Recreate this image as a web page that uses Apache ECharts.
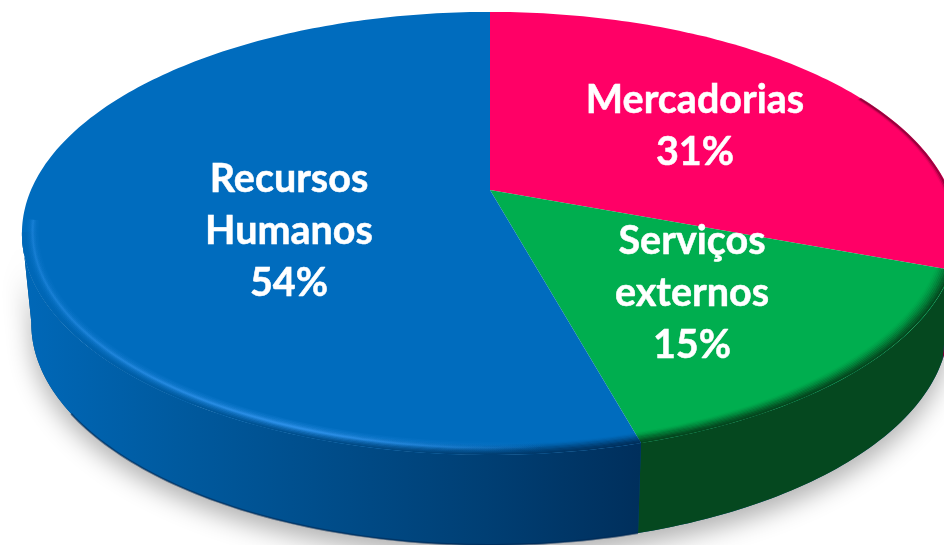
<!DOCTYPE html>
<html>
<head>
<meta charset="utf-8">
<style>
  html, body { margin: 0; padding: 0; background: #fff; }
  #chart { width: 944px; height: 545px; }
</style>
<script src="https://cdn.jsdelivr.net/npm/echarts@6/dist/echarts.min.js"></script>
</head>
<body>
<div id="chart"></div>
<script>
// clockwise from 12 o'clock
var categories = ['Mercadorias', 'Serviços\nexternos', 'Recursos\nHumanos'];
var shares = [30.7, 15.0, 54.3];
var faceColors = ['#ff0066', '#00ae4f', '#006cbe'];
var labelCenters = [[695, 126], [692, 293], [289, 231]];

// projected disc: a circle seen in perspective, apex off the ellipse centre
var APEX_X = 490, APEX_Y = 190;
var RX = 459, RY = 213, PERSP = -0.196;
var WALL_H = 90, WALL_SHRINK = 0.98;
// angles where the disc outline is widest, the wall is only visible between them
var WALL_FROM = 101, WALL_TO = 259;

function project(deg, r) {
  var t = deg * Math.PI / 180;
  var u = Math.sin(t) * r, v = -Math.cos(t) * r;
  var d = 1 + PERSP * v;
  return [APEX_X + RX * u / d, APEX_Y + RY * v / d];
}

function lower(p) {
  return [APEX_X + (p[0] - APEX_X) * WALL_SHRINK, p[1] + WALL_H];
}

function arc(from, to, r) {
  var pts = [];
  var n = Math.max(2, Math.ceil(Math.abs(to - from)));
  for (var i = 0; i <= n; i++) {
    pts.push(project(from + (to - from) * i / n, r));
  }
  return pts;
}

function hGradient(stops) {
  return { type: 'linear', x: 22, y: 0, x2: 640, y2: 0, global: true, colorStops: stops };
}

var blueWall = hGradient([
  { offset: 0, color: '#0068b8' },
  { offset: 0.25, color: '#005a9f' },
  { offset: 0.75, color: '#003f74' },
  { offset: 1, color: '#002f5c' }
]);
var wallFills = ['#7a0030', '#05481f', blueWall];

function sliceRange(index) {
  var total = shares.reduce(function (a, b) { return a + b; }, 0);
  var before = 0;
  for (var i = 0; i < index; i++) before += shares[i];
  return [before / total * 360, (before + shares[index]) / total * 360];
}

function renderBase() {
  var top = arc(WALL_FROM, WALL_TO, 1);
  var bottom = top.map(lower).reverse();
  return {
    type: 'polygon',
    shape: { points: top.concat(bottom) },
    style: {
      fill: '#004a80',
      shadowColor: 'rgba(0,0,0,0.3)',
      shadowBlur: 24,
      shadowOffsetY: 12
    }
  };
}

function renderSlice(params, api) {
  var i = params.dataIndex;
  var range = sliceRange(i);
  var children = [];

  // side wall, only the part that faces the viewer
  var w0 = Math.max(range[0], WALL_FROM), w1 = Math.min(range[1], WALL_TO);
  if (w1 > w0) {
    var wallTop = arc(w0, w1, 1);
    var wallBottom = wallTop.map(lower);
    children.push({
      type: 'polygon',
      shape: { points: wallTop.concat(wallBottom.slice().reverse()) },
      style: { fill: wallFills[i] }
    });
    if (i === 2) {
      children.push({
        type: 'polyline',
        shape: { points: arc(w0, 236, 1).map(lower) },
        style: { fill: null, stroke: 'rgba(0,38,80,0.55)', lineWidth: 2 }
      });
    }
  }

  // top face
  children.push({
    type: 'polygon',
    shape: { points: [[APEX_X, APEX_Y]].concat(arc(range[0], range[1], 1)) },
    style: { fill: faceColors[i] }
  });

  // bevel: soft dark edge towards the wall
  var N = i === 0 ? 3 : 9;
  var b0 = i === 0 ? 62 : w0;
  for (var k = 0; k < N; k++) {
    var alpha = Math.pow(1 - k / N, 1.6);
    var stroke;
    if (i === 2) {
      stroke = hGradient([
        { offset: 0, color: 'rgba(0,104,184,' + alpha + ')' },
        { offset: 0.25, color: 'rgba(0,90,159,' + alpha + ')' },
        { offset: 0.75, color: 'rgba(0,63,116,' + alpha + ')' },
        { offset: 1, color: 'rgba(0,47,92,' + alpha + ')' }
      ]);
    } else if (i === 1) {
      stroke = 'rgba(5,72,31,' + alpha + ')';
    } else {
      stroke = 'rgba(122,0,48,' + alpha * 0.7 + ')';
    }
    children.push({
      type: 'polyline',
      shape: { points: arc(b0, w1, 0.997 - k * 0.0035) },
      style: { fill: null, stroke: stroke, lineWidth: 2 }
    });
  }

  // light rim on the blue slice, fading out to the right
  if (i === 2) {
    var rims = [[0.978, 12, 0.07], [0.978, 9, 0.1], [0.978, 6, 0.16], [0.978, 3.5, 0.26], [0.978, 1.5, 0.36]];
    rims.forEach(function (rim) {
      children.push({
        type: 'polyline',
        shape: { points: arc(w0, 262, rim[0]) },
        style: {
          fill: null,
          lineWidth: rim[1],
          stroke: hGradient([
            { offset: 0, color: 'rgba(50,150,240,' + rim[2] * 0.5 + ')' },
            { offset: 0.45, color: 'rgba(50,150,240,' + rim[2] * 1.6 + ')' },
            { offset: 0.85, color: 'rgba(50,150,240,0)' },
            { offset: 1, color: 'rgba(50,150,240,0)' }
          ])
        }
      });
    });
  }

  // label
  children.push({
    type: 'text',
    x: labelCenters[i][0],
    y: labelCenters[i][1],
    style: {
      text: categories[i] + '\n' + Math.round(api.value(0)) + '%',
      fill: '#fff',
      stroke: '#fff',
      lineWidth: 0.5,
      font: 'bold 39.5px Lato, "Open Sans", sans-serif',
      align: 'center',
      verticalAlign: 'middle',
      lineHeight: 52
    }
  });

  return { type: 'group', children: children };
}

var chart = echarts.init(document.getElementById('chart'), null, { renderer: 'canvas' });
chart.setOption({
  animation: false,
  backgroundColor: '#fff',
  series: [
    { type: 'custom', coordinateSystem: 'none', silent: true, data: [0], renderItem: renderBase },
    {
      type: 'custom',
      coordinateSystem: 'none',
      silent: true,
      data: shares.map(function (v) { return [v]; }),
      renderItem: renderSlice
    }
  ]
});
</script>
</body>
</html>
